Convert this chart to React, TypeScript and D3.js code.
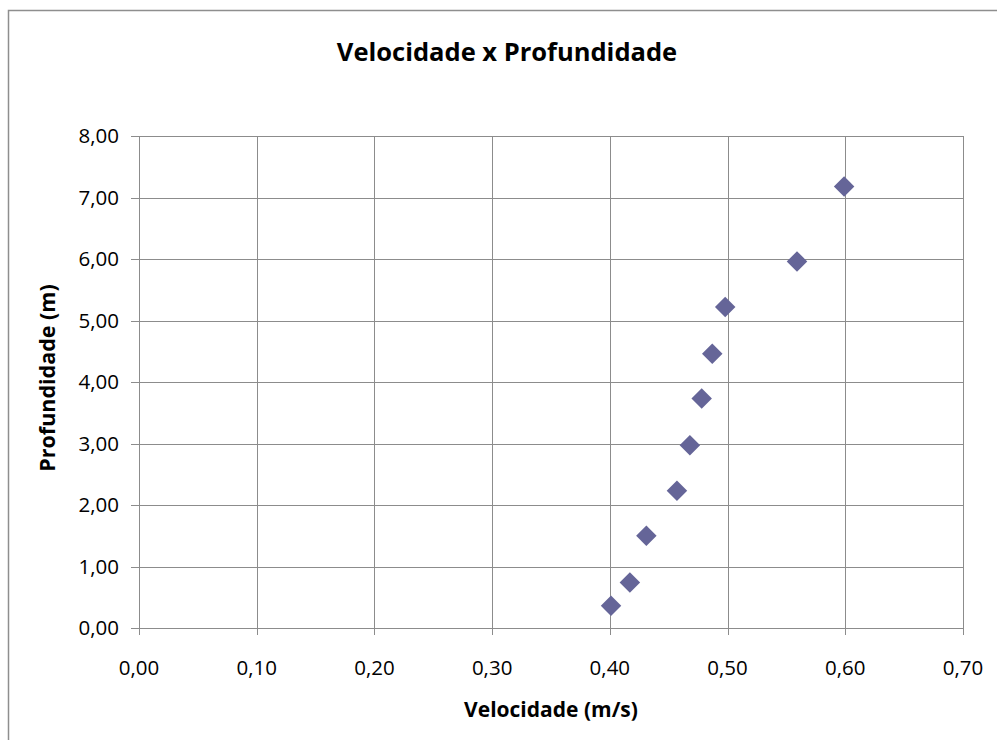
import React from "react";
import * as d3 from "d3";

const velocidade = [0.401, 0.417, 0.431, 0.457, 0.468, 0.478, 0.487, 0.498, 0.559, 0.599];
const profundidade = [0.36, 0.74, 1.5, 2.23, 2.97, 3.73, 4.46, 5.22, 5.96, 7.18];
const xTicks = [0, 0.1, 0.2, 0.3, 0.4, 0.5, 0.6, 0.7];
const yTicks = [0, 1, 2, 3, 4, 5, 6, 7, 8];
const title = "Velocidade x Profundidade";
const xLabel = "Velocidade (m/s)";
const yLabel = "Profundidade (m)";

const W = 997;
const H = 740;
const left = 139;
const right = 963;
const top = 136;
const bottom = 628;
const FONT = "'Open Sans', 'DejaVu Sans', sans-serif";

export default function App() {
  const x = d3.scaleLinear().domain([0, 0.7]).range([left, right]);
  const y = d3.scaleLinear().domain([0, 8]).range([bottom, top]);
  const fmt = (v: number) => v.toFixed(2).replace(".", ",");
  const marker = d3.symbol().type(d3.symbolSquare).size(210)() as string;
  const gridColor = "#8c8c8c";
  return (
    <svg
      width={W}
      height={H}
      style={{ position: "absolute", left: 0, top: 0, background: "#fff" }}
    >
      <rect x={8.5} y={10.5} width={W + 20} height={H + 20} fill="#fff" stroke="#8e8e8e" strokeWidth={1.5} />
      <text x={507} y={61} textAnchor="middle" fontFamily={FONT} fontWeight="bold" fontSize={25.5} fill="#000">
        {title}
      </text>
      {yTicks.map((t) => (
        <g key={"y" + t}>
          <line x1={left - 8} x2={right} y1={Math.round(y(t)) + 0.5} y2={Math.round(y(t)) + 0.5} stroke={gridColor} strokeWidth={1} />
          <text x={119} y={y(t) + 7} textAnchor="end" fontFamily={FONT} fontSize={20.5} fill="#000">
            {fmt(t)}
          </text>
        </g>
      ))}
      {xTicks.map((t) => (
        <g key={"x" + t}>
          <line x1={Math.round(x(t)) + 0.5} x2={Math.round(x(t)) + 0.5} y1={top} y2={bottom + 7} stroke={gridColor} strokeWidth={1} />
          <text x={x(t)} y={675} textAnchor="middle" fontFamily={FONT} fontSize={20.5} fill="#000">
            {fmt(t)}
          </text>
        </g>
      ))}
      <text x={551} y={717} textAnchor="middle" fontFamily={FONT} fontWeight="bold" fontSize={21} fill="#000">
        {xLabel}
      </text>
      <text
        transform={`translate(55,378) rotate(-90)`}
        textAnchor="middle"
        fontFamily={FONT}
        fontWeight="bold"
        fontSize={21.5}
        fill="#000"
      >
        {yLabel}
      </text>
      {velocidade.map((v, i) => (
        <path
          key={"p" + i}
          d={marker}
          transform={`translate(${x(v)},${y(profundidade[i])}) rotate(45)`}
          fill="#656598"
        />
      ))}
    </svg>
  );
}
